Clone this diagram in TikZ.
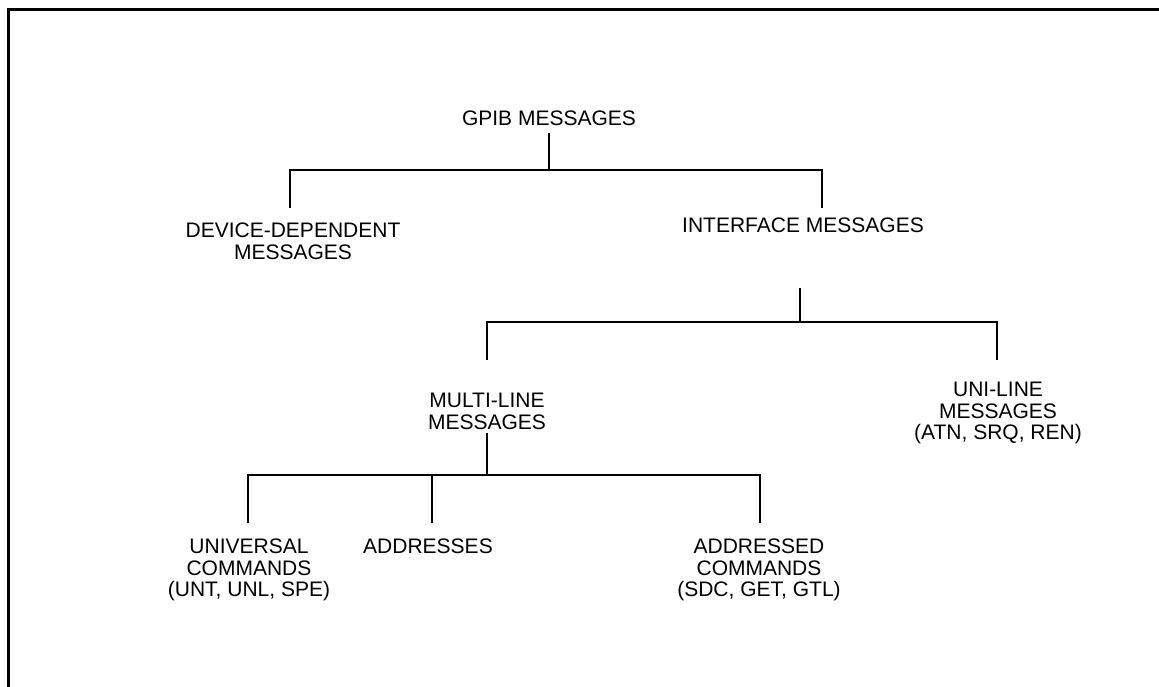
\documentclass[tikz,border=0pt]{standalone}
\usepackage{fontspec}
\setmainfont{Liberation Sans}
\begin{document}
\begin{tikzpicture}[x=1pt, y=-1pt,
  msg/.style={font=\fontsize{21}{21.5}\selectfont, align=center, inner sep=0pt, anchor=north},
  tree/.style={line width=2.4pt, line join=miter},
  frame/.style={line width=3pt}
]
\useasboundingbox (0,0) rectangle (1159,686);
\draw[frame] (8.5,700) -- (8.5,9) -- (1170,9);
% messages
\node[msg] (gpib) at (549,111) {GPIB MESSAGES};
\node[msg] (dev) at (293,223) {DEVICE-DEPENDENT\\MESSAGES};
\node[msg] (iface) at (803,218) {INTERFACE MESSAGES};
\node[msg] (multi) at (487,393) {MULTI-LINE\\MESSAGES};
\node[msg] (uni) at (998,382) {UNI-LINE\\MESSAGES\\(ATN, SRQ, REN)};
\node[msg] (univ) at (249,539) {UNIVERSAL\\COMMANDS\\(UNT, UNL, SPE)};
\node[msg] (addr) at (428,539) {ADDRESSES};
\node[msg] (addcmd) at (759,539) {ADDRESSED\\COMMANDS\\(SDC, GET, GTL)};
% junctions
\coordinate (t0) at (549,133);
\coordinate (t1) at (549,170);
\coordinate (t2) at (290,208);
\coordinate (t3) at (822,208);
\coordinate (i0) at (800,288);
\coordinate (i1) at (800,322);
\coordinate (i2) at (487,360);
\coordinate (i3) at (997,360);
\coordinate (m0) at (487,433);
\coordinate (m1) at (487,475);
\coordinate (m2) at (248,523);
\coordinate (m3) at (432,523);
\coordinate (m4) at (760,523);
% tree lines
\draw[tree] (t0) -- (t1);
\draw[tree] (t2) |- (t1) -| (t3);
\draw[tree] (i0) -- (i1);
\draw[tree] (i2) |- (i1) -| (i3);
\draw[tree] (m0) -- (m1);
\draw[tree] (m2) |- (m1) -| (m4);
\draw[tree] (m3) -- (m3 |- m1);
\end{tikzpicture}
\end{document}
